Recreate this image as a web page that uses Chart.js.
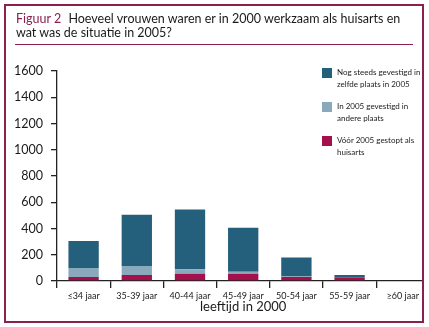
<!DOCTYPE html>
<html>
<head>
<meta charset="utf-8">
<script src="https://cdn.jsdelivr.net/npm/chart.js@4.4.1/dist/chart.umd.min.js"></script>
<style>
  html, body { margin: 0; padding: 0; background: #fff; }
  body { width: 429px; height: 327px; overflow: hidden; position: relative; font-family: Lato, 'Open Sans', sans-serif; color: #1a1a1a; }
  #wrap { position: absolute; left: 0; top: 0; width: 440px; height: 327px; }
  .frame { position: absolute; left: 4px; top: 4px; width: 416px; height: 315px; border: 2.5px solid #8B1F4F; pointer-events: none; }
  .cover { position: absolute; left: 424px; top: 0; width: 10px; height: 327px; background: #fff; }
  .title { position: absolute; left: 16px; top: 12px; width: 400px; font-size: 12.5px; line-height: 14px; }
  .title .fig { color: #8B1F4F; margin-right: 4px; }
  .rule { position: absolute; left: 15px; top: 44px; width: 398px; height: 1px; background: #8B1F4F; }
  .legend { position: absolute; left: 322px; top: 68px; font-size: 8px; line-height: 12px; }
  .legend .item { position: relative; height: 34px; }
  .legend .sw { position: absolute; left: 0; top: 0; width: 10px; height: 10px; }
  .legend .txt { position: absolute; left: 15px; top: -2px; width: 95px; white-space: nowrap; }
</style>
</head>
<body>
<div id="wrap"><canvas id="c"></canvas></div>
<div class="cover"></div>
<div class="title"><span class="fig">Figuur 2</span> Hoeveel vrouwen waren er in 2000 werkzaam als huisarts en wat was de situatie in 2005?</div>
<div class="rule"></div>
<div class="legend" id="legend"></div>
<div class="frame"></div>
<script>
// age groups (women GPs in 2000)
const categories = ['≤34 jaar', '35-39 jaar', '40-44 jaar', '45-49 jaar', '50-54 jaar', '55-59 jaar', '≥60 jaar'];
const stopped = [30, 45, 55, 55, 30, 25, 0];      // Vóór 2005 gestopt als huisarts
const moved = [70, 70, 35, 15, 5, 0, 0];           // In 2005 gevestigd in andere plaats
const same = [205, 390, 455, 335, 145, 20, 0];     // Nog steeds gevestigd in zelfde plaats in 2005
const yTicks = [0, 200, 400, 600, 800, 1000, 1200, 1400, 1600];

const COLORS = { same: '#245F7B', moved: '#8BA9BC', stopped: '#A3104C' };

const legendItems = [
  { label: ['Nog steeds gevestigd in', 'zelfde plaats in 2005'], color: COLORS.same },
  { label: ['In 2005 gevestigd in', 'andere plaats'], color: COLORS.moved },
  { label: ['Vóór 2005 gestopt als', 'huisarts'], color: COLORS.stopped },
];

function buildLegend() {
  const root = document.getElementById('legend');
  legendItems.forEach(it => {
    const row = document.createElement('div');
    row.className = 'item';
    const sw = document.createElement('div');
    sw.className = 'sw';
    sw.style.background = it.color;
    const txt = document.createElement('div');
    txt.className = 'txt';
    txt.innerHTML = it.label.join('<br>');
    row.appendChild(sw);
    row.appendChild(txt);
    root.appendChild(row);
  });
}

function drawChart() {
  const font = 'Lato, "Open Sans", sans-serif';
  new Chart(document.getElementById('c'), {
    type: 'bar',
    data: {
      labels: categories,
      datasets: [
        { label: 'Vóór 2005 gestopt als huisarts', data: stopped, backgroundColor: COLORS.stopped },
        { label: 'In 2005 gevestigd in andere plaats', data: moved, backgroundColor: COLORS.moved },
        { label: 'Nog steeds gevestigd in zelfde plaats in 2005', data: same, backgroundColor: COLORS.same },
      ],
    },
    options: {
      responsive: true, maintainAspectRatio: false, animation: false,
      categoryPercentage: 1, barPercentage: 0.57,
      layout: { padding: { top: 71, left: 0, right: 10.6, bottom: 0 } },
      plugins: { legend: { display: false }, tooltip: { enabled: false } },
      scales: {
        x: {
          stacked: true,
          afterFit: s => { s.height = 46; },
          grid: { drawOnChartArea: false, tickLength: 7, color: '#222', lineWidth: 1.3 },
          border: { color: '#222', width: 1.3 },
          ticks: { color: '#1a1a1a', font: { family: font, size: 9 }, padding: 3, maxRotation: 0, autoSkip: false },
          title: { display: true, text: 'leeftijd in 2000', color: '#1a1a1a', font: { family: font, size: 13 }, padding: { top: 0, bottom: 12 } },
        },
        y: {
          stacked: true, min: 0, max: 1600,
          afterFit: s => { s.width = 57; },
          afterBuildTicks: s => { s.ticks = yTicks.map(v => ({ value: v })); },
          grid: { drawOnChartArea: false, tickLength: 6, color: '#222', lineWidth: 1.3 },
          border: { color: '#222', width: 1.3 },
          ticks: { color: '#1a1a1a', font: { family: font, size: 12.5 }, padding: 8, callback: v => String(v) },
        },
      },
    },
  });
}

buildLegend();
drawChart();
</script>
</body>
</html>
